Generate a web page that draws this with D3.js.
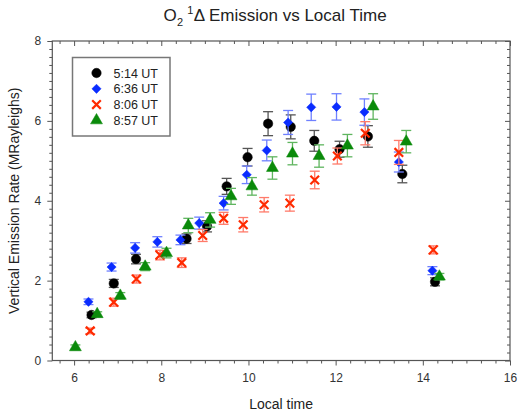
<!DOCTYPE html>
<html>
<head>
<meta charset="utf-8">
<script src="https://cdn.jsdelivr.net/npm/d3@7"></script>
<style>
  html, body { margin: 0; padding: 0; background: #fff; overflow: hidden; }
  svg { display: block; }
  text { font-family: "Liberation Sans", Arial, sans-serif; }
</style>
</head>
<body>
<div id="chart"></div>
<script>
// series: local time, emission rate, error
const blackX = [6.40, 6.91, 7.42, 8.58, 9.05, 9.50, 9.98, 10.45, 10.97, 11.51, 12.09, 12.74, 13.53, 14.28];
const blackY = [1.14, 1.93, 2.54, 3.05, 3.36, 4.36, 5.09, 5.93, 5.85, 5.50, 5.29, 5.61, 4.67, 1.97];
const blackE = [0.07, 0.1, 0.12, 0.12, 0.14, 0.2, 0.22, 0.3, 0.3, 0.26, 0.2, 0.27, 0.22, 0.1];

const blueX = [6.33, 6.86, 7.40, 7.91, 8.44, 8.87, 9.43, 9.96, 10.42, 10.91, 11.44, 12.02, 12.66, 13.45, 14.22];
const blueY = [1.47, 2.34, 2.82, 2.97, 3.02, 3.44, 3.94, 4.65, 5.26, 5.96, 6.34, 6.35, 6.22, 4.97, 2.25];
const blueE = [0.07, 0.1, 0.13, 0.13, 0.12, 0.15, 0.17, 0.22, 0.26, 0.3, 0.33, 0.33, 0.33, 0.25, 0.1];

const redX = [6.37, 6.91, 7.43, 7.97, 8.47, 8.95, 9.43, 9.88, 10.36, 10.95, 11.52, 12.04, 12.68, 13.45, 14.24];
const redY = [0.74, 1.46, 2.04, 2.64, 2.45, 3.13, 3.56, 3.40, 3.90, 3.94, 4.52, 5.12, 5.69, 5.21, 2.77];
const redE = [0.07, 0.1, 0.1, 0.12, 0.12, 0.15, 0.15, 0.18, 0.18, 0.2, 0.22, 0.2, 0.29, 0.3, 0.1];

const greenX = [6.03, 6.53, 7.06, 7.63, 8.12, 8.62, 9.12, 9.60, 10.08, 10.55, 11.01, 11.62, 12.27, 12.86, 13.62, 14.38];
const greenY = [0.33, 1.16, 1.62, 2.35, 2.69, 3.38, 3.52, 4.11, 4.36, 4.82, 5.18, 5.12, 5.38, 6.36, 5.48, 2.10];
const greenE = [0.06, 0.06, 0.08, 0.1, 0.12, 0.18, 0.18, 0.2, 0.22, 0.28, 0.28, 0.28, 0.28, 0.32, 0.28, 0.08];

const seriesNames = ["5:14 UT", "6:36 UT", "8:06 UT", "8:57 UT"];
const xTicks = [6, 8, 10, 12, 14, 16];
const yTicks = [0, 2, 4, 6, 8];

const series = [
    { name: seriesNames[0], xs: blackX, ys: blackY, es: blackE, color: "#000000", bar: "#555555", shape: "circle" },
    { name: seriesNames[1], xs: blueX, ys: blueY, es: blueE, color: "#0a2cff", bar: "#6f80ff", shape: "diamond" },
    { name: seriesNames[2], xs: redX, ys: redY, es: redE, color: "#ff2a00", bar: "#ff7a6a", shape: "cross" },
    { name: seriesNames[3], xs: greenX, ys: greenY, es: greenE, color: "#0a8a0a", bar: "#5fb55f", shape: "triangle" }
];

const width = 518, height = 418;
const margin = { top: 41, right: 8, bottom: 57.5, left: 52.3 };
const innerWidth = width - margin.left - margin.right;
const innerHeight = height - margin.top - margin.bottom;

const svg = d3.select("#chart")
    .append("svg")
    .attr("width", width)
    .attr("height", height);

const g = svg.append("g")
    .attr("transform", `translate(${margin.left},${margin.top})`);

const x = d3.scaleLinear().domain([5.5, 16]).range([0, innerWidth]);
const y = d3.scaleLinear().domain([0, 8]).range([innerHeight, 0]);

const xMinor = d3.range(17, 49).map(d => d / 3).filter(d => d >= 5.5 && d <= 16.001 && Math.abs(d - Math.round(d / 2) * 2) > 0.01);
const yMinor = d3.range(0, 41).map(d => d / 5).filter(d => Math.abs(d - Math.round(d / 2) * 2) > 0.01);

const axisColor = "#555";

function styleAxis(sel) {
    sel.select(".domain").remove();
    sel.selectAll("line").attr("stroke", axisColor);
    sel.selectAll("text").attr("fill", "#333").style("font-size", "12px");
}

function tickOnly(sel) {
    styleAxis(sel);
    sel.selectAll("text").remove();
}

// bottom
g.append("g").attr("transform", `translate(0,${innerHeight})`)
    .call(d3.axisBottom(x).tickValues(xTicks).tickSize(5).tickPadding(8))
    .call(styleAxis);
g.append("g").attr("transform", `translate(0,${innerHeight})`)
    .call(d3.axisBottom(x).tickValues(xMinor).tickSize(3))
    .call(tickOnly);
// left
g.append("g")
    .call(d3.axisLeft(y).tickValues(yTicks).tickSize(5).tickPadding(6))
    .call(styleAxis);
g.append("g")
    .call(d3.axisLeft(y).tickValues(yMinor).tickSize(3))
    .call(tickOnly);
// top, ticks inward
g.append("g")
    .call(d3.axisTop(x).tickValues(xTicks).tickSize(-5))
    .call(tickOnly);
g.append("g")
    .call(d3.axisTop(x).tickValues(xMinor).tickSize(-3))
    .call(tickOnly);
// right, ticks inward
g.append("g").attr("transform", `translate(${innerWidth},0)`)
    .call(d3.axisRight(y).tickValues(yTicks).tickSize(-5))
    .call(tickOnly);
g.append("g").attr("transform", `translate(${innerWidth},0)`)
    .call(d3.axisRight(y).tickValues(yMinor).tickSize(-3))
    .call(tickOnly);

// frame
g.append("rect")
    .attr("width", innerWidth)
    .attr("height", innerHeight)
    .attr("fill", "none")
    .attr("stroke", axisColor)
    .attr("stroke-width", 1.2);

const symbols = {
    circle: d3.symbol().type(d3.symbolCircle).size(70),
    diamond: d3.symbol().type(d3.symbolSquare).size(42),
    cross: d3.symbol().type(d3.symbolX).size(50),
    triangle: d3.symbol().type(d3.symbolTriangle).size(62)
};

function placeMark(shape, px, py) {
    return shape === "diamond"
        ? `translate(${px},${py}) rotate(45)`
        : `translate(${px},${py})`;
}

series.forEach(s => {
    const pts = s.xs.map((v, i) => ({ x: v, y: s.ys[i], e: s.es[i] }));
    const sg = g.append("g");
    const cap = 5;

    const bars = sg.selectAll(".err").data(pts).enter().append("g")
        .attr("stroke", s.bar)
        .attr("stroke-width", 1.3);
    bars.append("line")
        .attr("x1", d => x(d.x)).attr("x2", d => x(d.x))
        .attr("y1", d => y(d.y - d.e)).attr("y2", d => y(d.y + d.e));
    bars.append("line")
        .attr("x1", d => x(d.x) - cap).attr("x2", d => x(d.x) + cap)
        .attr("y1", d => y(d.y + d.e)).attr("y2", d => y(d.y + d.e));
    bars.append("line")
        .attr("x1", d => x(d.x) - cap).attr("x2", d => x(d.x) + cap)
        .attr("y1", d => y(d.y - d.e)).attr("y2", d => y(d.y - d.e));

    sg.selectAll(".pt").data(pts).enter().append("path")
        .attr("d", symbols[s.shape])
        .attr("transform", d => placeMark(s.shape, x(d.x), y(d.y)))
        .attr("fill", s.shape === "cross" ? "none" : s.color)
        .attr("stroke", s.color)
        .attr("stroke-width", s.shape === "cross" ? 2.2 : 0.5);
});

// legend
const legend = svg.append("g").attr("transform", "translate(72.5,57.5)");
legend.append("rect")
    .attr("width", 97.5)
    .attr("height", 78.5)
    .attr("fill", "#fff")
    .attr("stroke", "#777")
    .attr("stroke-width", 1.5);
series.forEach((s, i) => {
    const row = legend.append("g").attr("transform", `translate(0,${15.5 + i * 15.8})`);
    row.append("path")
        .attr("d", symbols[s.shape])
        .attr("transform", placeMark(s.shape, 24, 0))
        .attr("fill", s.shape === "cross" ? "none" : s.color)
        .attr("stroke", s.color)
        .attr("stroke-width", s.shape === "cross" ? 2.2 : 0.5);
    row.append("text")
        .attr("x", 41)
        .attr("y", 4.5)
        .style("font-size", "12.5px")
        .attr("fill", "#222")
        .text(s.name);
});

// title, built from separate pieces so sub/superscripts sit right
const tg = svg.append("g");
const parts = [
    { t: "O", size: 17, dy: 0, gap: 0 },
    { t: "2", size: 11, dy: 5, gap: 0.5 },
    { t: "1", size: 11, dy: -7, gap: 4 },
    { t: "Δ Emission vs Local Time", size: 17, dy: 0, gap: 0.5 }
];
let cx = 0;
parts.forEach(p => {
    cx += p.gap;
    const el = tg.append("text")
        .attr("x", cx)
        .attr("y", 21 + p.dy)
        .style("font-size", p.size + "px")
        .attr("fill", "#222")
        .text(p.t);
    cx += el.node().getComputedTextLength();
});
tg.attr("transform", `translate(${275 - cx / 2},0)`);

// axis labels
svg.append("text")
    .attr("x", margin.left + innerWidth / 2)
    .attr("y", 409)
    .attr("text-anchor", "middle")
    .style("font-size", "14px")
    .attr("fill", "#222")
    .text("Local time");

svg.append("text")
    .attr("transform", `translate(19,${margin.top + innerHeight / 2}) rotate(-90)`)
    .attr("text-anchor", "middle")
    .style("font-size", "14px")
    .attr("fill", "#222")
    .text("Vertical Emission Rate (MRayleighs)");
</script>
</body>
</html>
